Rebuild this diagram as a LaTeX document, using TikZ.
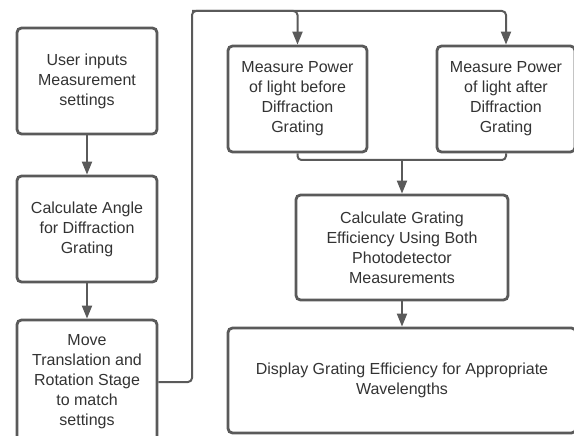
\documentclass[tikz,border=0pt]{standalone}
\usepackage{fontspec}
\setmainfont{Liberation Sans}
\usetikzlibrary{arrows.meta}
\definecolor{edge}{HTML}{5A5A5A}
\definecolor{ink}{HTML}{333333}
\tikzset{
  box/.style={draw=edge, line width=2.8pt, rounded corners=4.5pt, fill=white,
    align=center, inner sep=0pt, text=ink,
    font=\fontsize{16}{20}\selectfont},
  conn/.style={draw=edge, line width=2pt, rounded corners=4pt},
  arr/.style={conn, -{Triangle[width=10pt,length=13pt]}}
}
\begin{document}
\begin{tikzpicture}[x=1pt,y=-1pt]
  \useasboundingbox (0,0) rectangle (574,436);
  \clip (0,0) rectangle (574,436);

  % left column
  \node[box, minimum width=140pt, minimum height=106pt] (b1) at (87,81)
    {User inputs\\Measurement\\settings};
  \node[box, minimum width=140pt, minimum height=106pt] (b2) at (87,229)
    {Calculate Angle\\for Diffraction\\Grating};
  \node[box, minimum width=140pt, minimum height=124pt] (b3) at (87,382)
    {Move\\Translation and\\Rotation Stage\\to match\\settings};

  % measurement boxes
  \node[box, minimum width=139pt, minimum height=106pt] (b4) at (297.5,99)
    {Measure Power\\of light before\\Diffraction\\Grating};
  \node[box, minimum width=138pt, minimum height=106pt] (b5) at (506,99)
    {Measure Power\\of light after\\Diffraction\\Grating};

  % result boxes
  \node[box, minimum width=212pt, minimum height=105pt] (b6) at (402,247.5)
    {Calculate Grating\\Efficiency Using Both\\Photodetector\\Measurements};
  \node[box, minimum width=348pt, minimum height=105pt] (b7) at (402,380.5)
    {Display Grating Efficiency for Appropriate\\Wavelengths};

  % connectors
  \draw[arr] (b1) -- (b2);
  \draw[arr] (b2) -- (b3);

  \coordinate (top) at (192,11);
  \draw[arr] (b3.east) -| (top) -| (b5.north);
  \draw[arr] (top) -| (b4.north);

  \coordinate (m) at (402,160);
  \draw[conn] (b4.south) |- (m) -| (b5.south);
  \draw[arr] (m) -- (b6.north);
  \draw[arr] (b6) -- (b7);
\end{tikzpicture}
\end{document}
